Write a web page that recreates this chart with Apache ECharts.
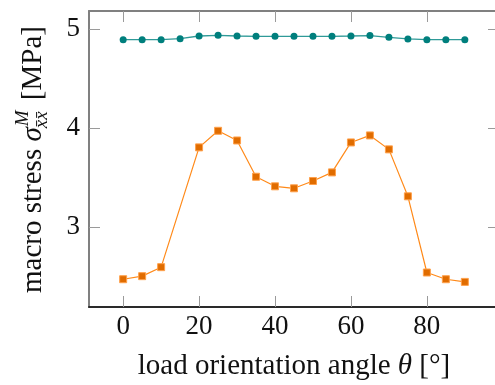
<!DOCTYPE html>
<html><head><meta charset="utf-8">
<script src="https://cdn.jsdelivr.net/npm/echarts@6/dist/echarts.min.js"></script>
<style>html,body{margin:0;padding:0;background:#fff}#c{width:495px;height:385px}</style>
</head><body><div id="c"></div>
<script>
const anglesTeal = [0,5,10,15,20,25,30,35,40,45,50,55,60,65,70,75,80,85,90];
const stressTeal = [4.895,4.895,4.895,4.905,4.932,4.939,4.932,4.929,4.929,4.929,4.929,4.929,4.932,4.936,4.919,4.902,4.895,4.895,4.895];
const anglesOrange = [0,5,10,20,25,30,35,40,45,50,55,60,65,70,75,80,85,90];
const stressOrange = [2.471,2.502,2.593,3.805,3.973,3.875,3.508,3.411,3.391,3.465,3.552,3.855,3.926,3.785,3.310,2.539,2.471,2.444];
const xTicks = [0,20,40,60,80];
const yTicks = [3,4,5];
const xTitle = ['load orientation angle ', 'θ', ' [°]'];
const yTitle = ['macro stress ', 'σ', 'M', 'x̄x̄', ' [MPa]'];

const FONT = '"Liberation Serif", "DejaVu Serif", serif';
const FT = 27, F = 29, FS = 19;

const ctx = document.createElement('canvas').getContext('2d');
function mw(t, f) { ctx.font = f; return ctx.measureText(t).width; }
const fN = F + 'px ' + FONT, fI = 'italic ' + F + 'px ' + FONT, fSI = 'italic ' + FS + 'px ' + FONT;
const w0 = mw(yTitle[0], fN), w1 = mw(yTitle[1], fI), w2 = mw(yTitle[2], fSI), w3 = mw(yTitle[3], fSI), w4 = mw(yTitle[4], fN);
const W = w0 + w1 + Math.max(w2, w3) + w4;
let x0 = -W / 2;
const tStyle = (text, font, x, y) => ({ type: 'text', x: x, y: y, style: { text: text, font: font, fill: '#111', textAlign: 'left', textVerticalAlign: 'middle', verticalAlign: 'middle' } });
const yChildren = [
  tStyle(yTitle[0], fN, x0, 0),
  tStyle(yTitle[1], fI, x0 + w0, 0),
  tStyle(yTitle[2], fSI, x0 + w0 + w1 + 1, -10),
  tStyle(yTitle[3], fSI, x0 + w0 + w1 - 1, 9),
  tStyle(yTitle[4], fN, x0 + w0 + w1 + Math.max(w2, w3) + 3, 0)
];

const chart = echarts.init(document.getElementById('c'), null, { renderer: 'canvas' });
const tickStyle = { show: true, inside: true, length: 11, lineStyle: { color: '#9a9a9a', width: 1 } };
chart.setOption({
  animation: false,
  backgroundColor: '#fff',
  grid: { left: 89, top: 11, width: 410, height: 296, containLabel: false, outerBoundsMode: 'none' },
  xAxis: [{
    type: 'value', min: -9, max: 99, position: 'bottom',
    axisLine: { show: true, onZero: false, lineStyle: { color: '#2a2a2a', width: 2 } },
    axisTick: Object.assign({}, tickStyle, { customValues: xTicks }),
    axisLabel: { customValues: xTicks, fontFamily: FONT, fontSize: FT, color: '#111', margin: 6 },
    splitLine: { show: false },
    name: '{n|' + xTitle[0] + '}{i|' + xTitle[1] + '}{n|' + xTitle[2] + '}',
    nameLocation: 'middle', nameGap: 45,
    nameTextStyle: { rich: { n: { fontFamily: FONT, fontSize: F, color: '#111' }, i: { fontFamily: FONT, fontSize: F, fontStyle: 'italic', color: '#111' } } }
  }, {
    type: 'value', min: -9, max: 99, position: 'top',
    axisLine: { show: true, onZero: false, lineStyle: { color: '#808080', width: 2 } },
    axisTick: Object.assign({}, tickStyle, { customValues: xTicks }),
    axisLabel: { show: false }, splitLine: { show: false }
  }],
  yAxis: [{
    type: 'value', min: 2.19, max: 5.185, position: 'left',
    axisLine: { show: true, onZero: false, lineStyle: { color: '#808080', width: 2 } },
    axisTick: Object.assign({}, tickStyle, { customValues: yTicks }),
    axisLabel: { customValues: yTicks, fontFamily: FONT, fontSize: FT, color: '#111', margin: 9 },
    splitLine: { show: false }
  }, {
    type: 'value', min: 2.19, max: 5.185, position: 'right',
    axisLine: { show: true, onZero: false, lineStyle: { color: '#808080', width: 2 } },
    axisTick: Object.assign({}, tickStyle, { customValues: yTicks }),
    axisLabel: { show: false }, splitLine: { show: false }
  }],
  graphic: [{ type: 'group', x: 33, y: 161, rotation: Math.PI / 2, children: yChildren }],
  series: [{
    type: 'line', xAxisIndex: 0, yAxisIndex: 0,
    data: anglesTeal.map((a, i) => [a, stressTeal[i]]),
    symbol: 'circle', symbolSize: 7,
    itemStyle: { color: '#007f7d', borderWidth: 0 },
    lineStyle: { color: '#2f9a98', width: 1.3 }
  }, {
    type: 'line', xAxisIndex: 0, yAxisIndex: 0,
    data: anglesOrange.map((a, i) => [a, stressOrange[i]]),
    symbol: 'rect', symbolSize: 7,
    itemStyle: { color: '#e06c00', borderColor: '#ffa04a', borderWidth: 1 },
    lineStyle: { color: '#ff8a1a', width: 1.2 }
  }]
});
</script></body></html>
